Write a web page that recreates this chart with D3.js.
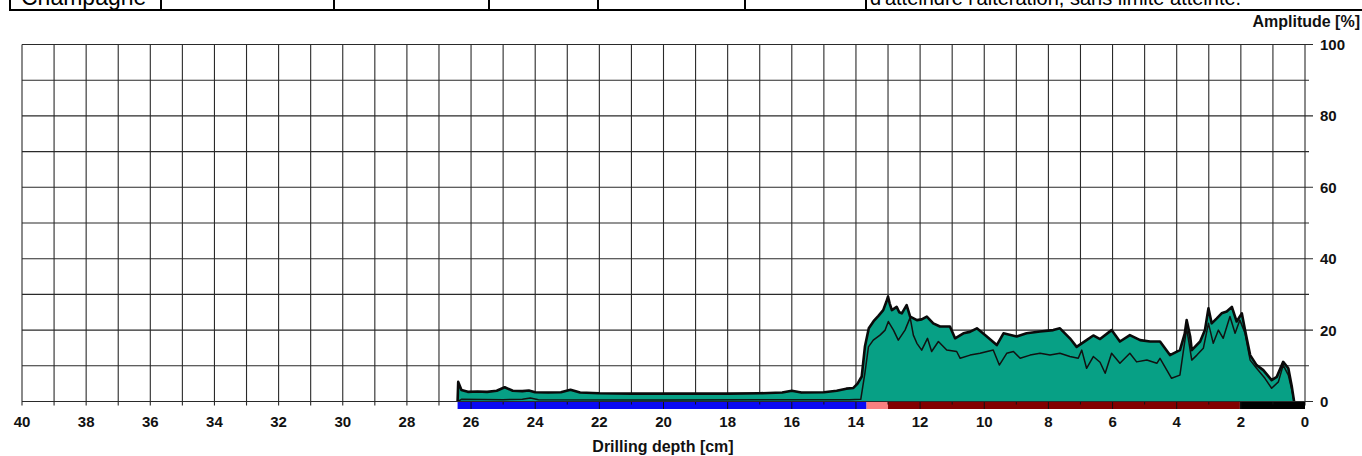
<!DOCTYPE html>
<html>
<head>
<meta charset="utf-8">
<script src="https://cdn.jsdelivr.net/npm/d3@7"></script>
<style>
  body { margin: 0; background: #fff; }
  svg { display: block; }
  text { font-family: "Liberation Sans", Arial, sans-serif; }
</style>
</head>
<body>
<svg id="chart" width="1362" height="456"></svg>
<script>
// Upper envelope of the drilling amplitude (depth in cm, amplitude in %)
const upperDepth = [26.42, 26.40, 26.30, 26.1, 25.8, 25.5, 25.2, 24.95, 24.7, 24.4, 24.2, 24.0, 23.6, 23.2, 22.9, 22.6,
  22.0, 21.0, 20.0, 19.0, 18.0, 17.0, 16.3, 16.0, 15.7, 15.0, 14.6, 14.3, 14.08, 13.95, 13.82, 13.72, 13.6, 13.45,
  13.3, 13.15, 13.05, 13.0, 12.95, 12.88, 12.73, 12.65, 12.57, 12.42, 12.31, 12.10, 11.95, 11.79, 11.59, 11.38,
  11.07, 10.91, 10.65, 10.45, 10.23, 9.92, 9.61, 9.40, 8.99, 8.68, 8.26, 7.85, 7.64, 7.33, 7.12, 6.81, 6.6, 6.39,
  6.03, 5.77, 5.46, 5.14, 4.83, 4.52, 4.21, 3.90, 3.75, 3.69, 3.58, 3.53, 3.27, 3.12, 3.01, 2.91, 2.75, 2.60, 2.44,
  2.28, 2.13, 1.97, 1.87, 1.71, 1.51, 1.30, 1.04, 0.88, 0.68, 0.52, 0.41, 0.34];
const upperAmp = [0, 5.5, 3.2, 2.7, 2.8, 2.7, 3.0, 4.0, 3.0, 2.9, 3.1, 2.6, 2.5, 2.6, 3.3, 2.5,
  2.3, 2.2, 2.2, 2.2, 2.2, 2.3, 2.5, 3.0, 2.5, 2.6, 3.0, 3.6, 3.8, 5.0, 7.0, 15.4, 20.5, 22.5,
  24.0, 25.6, 28.0, 29.4, 27.5, 25.6, 26.5, 25.0, 24.7, 27.0, 23.8, 22.8, 23.0, 23.8, 21.9, 21.0,
  21.0, 17.7, 19.1, 19.5, 20.5, 18.2, 15.8, 19.1, 18.2, 19.1, 19.6, 20.0, 20.5, 17.7, 15.3, 17.2, 18.5, 17.5,
  20.0, 16.8, 18.6, 17.2, 16.8, 16.8, 13.0, 14.4, 19.0, 22.8, 18.2, 14.4, 16.8, 20.0, 26.1, 21.9, 23.3, 24.7, 25.2,
  26.5, 22.4, 24.7, 20.0, 13.0, 10.2, 8.8, 6.0, 6.9, 11.1, 9.3, 4.1, 0];

// Mean amplitude line
const innerDepth = [26.42, 26.3, 25.0, 24.4, 24.15, 23.9, 20.0, 16.0, 14.2, 13.85, 13.72, 13.61, 13.46, 13.25, 13.09,
  12.99, 12.83, 12.68, 12.47, 12.31, 12.21, 12.10, 11.95, 11.77, 11.64, 11.43, 11.17, 10.86, 10.75, 10.44, 10.13,
  9.72, 9.53, 9.30, 9.09, 8.88, 8.57, 8.26, 7.95, 7.64, 7.33, 7.07, 6.96, 6.81, 6.60, 6.39, 6.23, 6.03, 5.77, 5.46,
  5.25, 4.93, 4.62, 4.52, 4.16, 3.90, 3.69, 3.53, 3.37, 3.17, 3.01, 2.86, 2.70, 2.55, 2.34, 2.18, 2.03, 1.87, 1.71,
  1.51, 1.25, 1.04, 0.83, 0.68, 0.52, 0.41, 0.34];
const innerAmp = [0, 0.6, 0.5, 0.6, 1.0, 0.5, 0.4, 0.5, 0.5, 0.6, 8.0, 15.3, 17.2, 18.6, 20.0,
  22.4, 20.0, 17.2, 20.0, 23.5, 18.6, 16.3, 14.4, 17.7, 14.0, 16.8, 14.4, 14.0, 12.1, 13.0, 13.5,
  14.4, 10.2, 13.5, 14.0, 12.1, 13.0, 13.5, 13.0, 13.5, 12.6, 12.1, 14.4, 9.3, 12.6, 11.0, 7.9, 13.5, 10.7, 13.5,
  11.1, 11.6, 10.7, 12.1, 6.5, 7.4, 20.5, 11.6, 13.0, 14.9, 21.9, 16.3, 20.0, 17.7, 23.8, 19.1, 22.8, 19.1, 11.6,
  9.3, 6.5, 3.7, 5.5, 10.2, 7.4, 3.2, 0];

// Material zones along the drilling path
const zoneStart = [26.42, 13.67, 13.0, 2.03];
const zoneEnd   = [13.67, 13.0, 2.03, 0];
const zoneColor = ["#0a0af2", "#f98080", "#820000", "#000000"];

const xTickValues = d3.range(0, 41, 2);
const yTickValues = [0, 20, 40, 60, 80, 100];

const svg = d3.select("#chart");
const x = d3.scaleLinear().domain([40, 0]).range([22, 1305]);
const y = d3.scaleLinear().domain([0, 100]).range([401.5, 44.5]);

// Cropped header table row
const header = svg.append("g");
header.append("line").attr("x1", 10).attr("x2", 1362).attr("y1", 10).attr("y2", 10)
  .attr("stroke", "#000").attr("stroke-width", 2);
[10, 161, 334, 489, 598, 745, 866].forEach(px => {
  header.append("line").attr("x1", px).attr("x2", px).attr("y1", -2).attr("y2", 11)
    .attr("stroke", "#000").attr("stroke-width", 2);
});
header.append("text").attr("x", 21).attr("y", 5).attr("font-size", 23).attr("fill", "#000").text("Champagne");
header.append("text").attr("x", 870).attr("y", 5).attr("font-size", 20).attr("fill", "#000")
  .text("d'atteindre l'altération, sans limite atteinte.");

// Grid
const grid = svg.append("g").attr("stroke", "#2a2a2a").attr("stroke-width", 1.1);
d3.range(0, 41, 1).forEach(v => {
  grid.append("line").attr("x1", x(v)).attr("x2", x(v)).attr("y1", y(100)).attr("y2", y(0) + 4);
});
d3.range(0, 101, 10).forEach(v => {
  grid.append("line").attr("x1", x(40)).attr("x2", x(0) + (v % 20 === 0 ? 8 : 4))
    .attr("y1", y(v)).attr("y2", y(v));
});

// Amplitude area and lines
const upperPts = upperDepth.map((d, i) => [d, upperAmp[i]]);
const innerPts = innerDepth.map((d, i) => [d, innerAmp[i]]);

svg.append("path")
  .datum(upperPts)
  .attr("fill", "#07a085")
  .attr("d", d3.area().x(d => x(d[0])).y0(y(0)).y1(d => y(d[1])));

svg.append("path")
  .datum(innerPts)
  .attr("fill", "none").attr("stroke", "#111").attr("stroke-width", 1.5)
  .attr("stroke-linejoin", "round")
  .attr("d", d3.line().x(d => x(d[0])).y(d => y(d[1])));

svg.append("path")
  .datum(upperPts)
  .attr("fill", "none").attr("stroke", "#0a0a0a").attr("stroke-width", 2.6)
  .attr("stroke-linejoin", "round")
  .attr("d", d3.line().x(d => x(d[0])).y(d => y(d[1])));

// Zone bar under the axis
const zones = zoneStart.map((s, i) => ({ s, e: zoneEnd[i], c: zoneColor[i] }));
svg.append("g").selectAll("rect").data(zones).join("rect")
  .attr("x", d => x(d.s)).attr("width", d => x(d.e) - x(d.s))
  .attr("y", y(0) + 0.5).attr("height", 7)
  .attr("fill", d => d.c);
svg.append("g").selectAll("line").data(d3.range(1, 27)).join("line")
  .attr("x1", d => x(d)).attr("x2", d => x(d))
  .attr("y1", y(0)).attr("y2", d => y(0) + (d % 2 === 0 ? 7.5 : 3))
  .attr("stroke", "#111").attr("stroke-width", 1);

// Axis baseline
svg.append("line").attr("x1", x(40)).attr("x2", x(0) + 8).attr("y1", y(0)).attr("y2", y(0))
  .attr("stroke", "#2a2a2a").attr("stroke-width", 1.1);

// Tick labels
svg.append("g").selectAll("text").data(xTickValues).join("text")
  .attr("x", d => x(d)).attr("y", 427)
  .attr("text-anchor", "middle").attr("font-size", 15).attr("font-weight", "bold").attr("fill", "#111")
  .text(d => d);
svg.append("g").selectAll("text").data(yTickValues).join("text")
  .attr("x", 1320).attr("y", d => y(d) + 5.5)
  .attr("font-size", 15).attr("font-weight", "bold").attr("fill", "#111")
  .text(d => d);

// Axis titles
svg.append("text").attr("x", 663).attr("y", 451.5).attr("text-anchor", "middle")
  .attr("font-size", 16).attr("font-weight", "bold").attr("fill", "#111").text("Drilling depth [cm]");
svg.append("text").attr("x", 1360).attr("y", 27).attr("text-anchor", "end")
  .attr("font-size", 16).attr("font-weight", "bold").attr("fill", "#111").text("Amplitude [%]");
</script>
</body>
</html>
